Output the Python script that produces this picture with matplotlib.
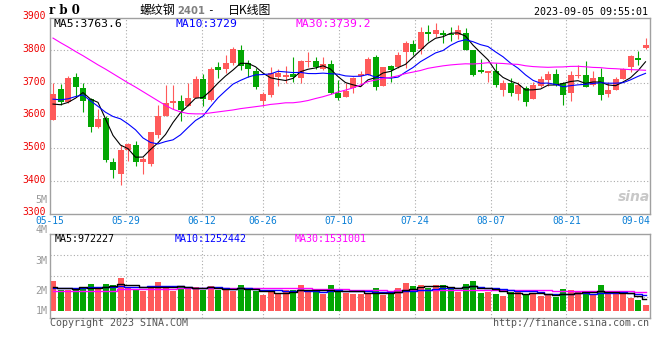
import numpy as np
import pandas as pd
import matplotlib
matplotlib.use('Agg')
import matplotlib.pyplot as plt
from matplotlib.transforms import ScaledTranslation

# daily candles, 2023-05-15 .. 2023-09-05
opens = [3585, 3682, 3641, 3719, 3685, 3651, 3566, 3592, 3458, 3422,
         3493, 3510, 3459, 3452, 3539, 3599, 3638, 3645, 3628, 3655,
         3711, 3646, 3749, 3743, 3762, 3801, 3760, 3737, 3643, 3663,
         3719, 3718, 3727, 3716, 3763, 3768, 3743, 3758, 3668, 3658,
         3684, 3721, 3724, 3779, 3689, 3750, 3747, 3793, 3818, 3804,
         3855, 3849, 3852, 3849, 3845, 3852, 3799, 3740, 3731, 3737,
         3679, 3699, 3666, 3684, 3650, 3689, 3709, 3727, 3699, 3670,
         3721, 3724, 3692, 3719, 3665, 3679, 3712, 3748, 3776, 3806]
highs = [3699, 3697, 3721, 3729, 3699, 3653, 3619, 3597, 3469, 3510,
         3515, 3522, 3474, 3551, 3631, 3692, 3692, 3663, 3699, 3721,
         3727, 3747, 3765, 3786, 3809, 3816, 3770, 3745, 3671, 3747,
         3743, 3752, 3778, 3770, 3794, 3778, 3778, 3770, 3709, 3699,
         3719, 3735, 3778, 3784, 3750, 3755, 3793, 3827, 3832, 3870,
         3877, 3883, 3862, 3872, 3877, 3869, 3801, 3773, 3735, 3760,
         3709, 3714, 3704, 3689, 3704, 3721, 3735, 3742, 3704, 3737,
         3755, 3767, 3737, 3745, 3704, 3719, 3745, 3784, 3798, 3837]
lows = [3585, 3633, 3638, 3658, 3612, 3549, 3563, 3459, 3408, 3386,
        3461, 3444, 3422, 3444, 3531, 3599, 3619, 3584, 3628, 3655,
        3628, 3643, 3714, 3730, 3755, 3740, 3719, 3682, 3628, 3658,
        3689, 3699, 3704, 3699, 3750, 3743, 3740, 3665, 3648, 3658,
        3668, 3689, 3724, 3679, 3689, 3704, 3745, 3745, 3786, 3788,
        3827, 3839, 3821, 3827, 3835, 3799, 3721, 3730, 3704, 3686,
        3661, 3661, 3648, 3628, 3650, 3686, 3689, 3691, 3633, 3643,
        3714, 3686, 3691, 3648, 3658, 3679, 3712, 3733, 3755, 3803]
closes = [3666, 3640, 3716, 3686, 3643, 3566, 3590, 3464, 3432, 3495,
          3512, 3459, 3466, 3548, 3597, 3639, 3643, 3617, 3655, 3711,
          3650, 3743, 3738, 3762, 3803, 3753, 3742, 3686, 3666, 3730,
          3730, 3724, 3718, 3768, 3768, 3750, 3757, 3668, 3653, 3676,
          3716, 3728, 3773, 3686, 3748, 3740, 3786, 3823, 3793, 3855,
          3849, 3862, 3847, 3845, 3862, 3799, 3724, 3733, 3735, 3692,
          3699, 3668, 3692, 3640, 3694, 3711, 3728, 3694, 3663, 3724,
          3724, 3686, 3716, 3663, 3679, 3712, 3743, 3781, 3770, 3816]
# volume in millions
volumes = [2.65, 1.89, 1.86, 1.92, 2.10, 2.36, 1.92, 2.36, 2.27, 2.89,
           2.06, 1.86, 1.74, 2.21, 2.54, 2.18, 1.74, 2.18, 2.06, 2.10,
           1.89, 2.18, 1.89, 1.86, 1.77, 2.27, 1.86, 1.77, 1.39, 1.65,
           1.50, 1.83, 1.86, 2.27, 1.71, 1.77, 1.47, 2.27, 1.83, 1.56,
           1.50, 1.50, 1.50, 2.01, 1.42, 1.56, 2.01, 2.45, 2.18, 2.27,
           2.01, 2.27, 2.27, 1.92, 1.71, 2.36, 2.63, 1.56, 1.71, 1.47,
           1.33, 1.71, 1.71, 1.50, 1.50, 1.33, 1.42, 1.21, 1.92, 1.83,
           1.71, 1.56, 1.47, 2.27, 1.47, 1.47, 1.47, 1.12, 0.94, 0.50]

# moving averages before enough history is on the chart
ma5_head = [3635, 3633, 3640, 3653]
ma10_head = [3650, 3648, 3651, 3658, 3663, 3645, 3628, 3610, 3597]
ma30_head = [3837, 3823, 3810, 3796, 3783, 3769, 3755, 3742, 3728, 3714,
             3700, 3687, 3673, 3659, 3645, 3631, 3619, 3611, 3606, 3605,
             3605, 3608, 3611, 3614, 3617, 3621, 3624, 3627, 3630]
vma5_head = [2.10, 2.05, 2.00, 1.98]
vma10_head = [2.00, 2.00, 2.02, 2.03, 2.05, 2.08, 2.10, 2.12, 2.15]
vma30_head = [1.74, 1.74, 1.75, 1.75, 1.76, 1.76, 1.77, 1.77, 1.78, 1.95,
              1.96, 1.96, 1.97, 1.97, 1.98, 1.98, 1.98, 1.99, 1.99, 1.99,
              2.00, 2.00, 2.00, 2.01, 2.01, 2.02, 2.02, 2.03, 2.04]

# header values as printed on the chart
price_ma_text = ['MA5:3763.6', 'MA10:3729', 'MA30:3739.2']
vol_ma_text = ['MA5:972227', 'MA10:1252442', 'MA30:1531001']

date_labels = ['05-15', '05-29', '06-12', '06-26', '07-10', '07-24', '08-07', '08-21', '09-04']
date_idx = [0, 10, 20, 28, 38, 48, 58, 68, 78]
price_ticks = [3300, 3400, 3500, 3600, 3700, 3800, 3900]
vol_tick_labels = ['5M', '4M', '3M', '2M', '1M']

RED = '#ff5a5a'
GREEN = '#03a603'
GRID = '#aaaaaa'
FRAME = '#a0a0a0'
MA_COLORS = ['black', '#0000ff', '#ff00ff']
MONO = 'DejaVu Sans Mono'
CJK = ['Noto Sans CJK SC', 'DejaVu Sans']

df = pd.DataFrame({'open': opens, 'high': highs, 'low': lows,
                   'close': closes, 'vol': volumes})
n = len(df)
x = np.arange(n)
up = df['close'] >= df['open']
colors = np.where(up, RED, GREEN)


def ma(s, w, head):
    m = s.rolling(w).mean()
    m.iloc[:len(head)] = head
    return m


W, H = 660, 360
fig = plt.figure(figsize=(6.6, 3.6), dpi=100)
fig.patch.set_facecolor('white')


def px_axes(x0, y0, x1, y1):
    return fig.add_axes([x0 / W, 1 - y1 / H, (x1 - x0) / W, (y1 - y0) / H])


def ftext(px, py, s, **kw):
    return fig.text(px / W, 1 - py / H, s, **kw)


ax = px_axes(50, 17.5, 650, 213.5)
axv = px_axes(50, 234, 650, 318)

# gridline spacing Sina uses for the date ticks
grid_x = [i * n / (n - 1) for i in date_idx]

for a in (ax, axv):
    a.set_xlim(0, n)
    a.set_xticks([])
    for s in a.spines.values():
        s.set_color(FRAME)
        s.set_linewidth(1.0)
    for gx in grid_x[1:-1]:
        a.axvline(gx, color=GRID, lw=0.8, ls=(0, (1, 2)), zorder=0)
    a.tick_params(length=0)

# --- price panel
ax.set_ylim(3300, 3900)
ax.set_yticks(price_ticks)
ax.set_yticklabels([str(p) for p in price_ticks], color='#ee0000',
                   fontsize=7, family=MONO)
ax.tick_params(axis='y', pad=3)
lift = ScaledTranslation(0, 2.3 / 100, fig.dpi_scale_trans)
for lab in ax.get_yticklabels():
    lab.set_transform(lab.get_transform() + lift)
for p in price_ticks[1:-1]:
    ax.axhline(p, color=GRID, lw=0.8, ls=(0, (1, 2)), zorder=0)

bw = 0.8
ax.vlines(x + bw / 2, df['low'], df['high'], colors=colors, lw=0.8, zorder=2)
ax.bar(x, (df['close'] - df['open']).abs().clip(lower=2.5),
       bottom=df[['open', 'close']].min(axis=1), width=bw, align='edge',
       color=colors, lw=0, zorder=3)

ma5 = ma(df['close'], 5, ma5_head)
ma10 = ma(df['close'], 10, ma10_head)
ma30 = ma(df['close'], 30, ma30_head)
for line, c in zip([ma5, ma10, ma30], MA_COLORS):
    ax.plot(x + bw / 2, line, color=c, lw=0.8, zorder=4)

for px, s, c in zip([53, 175, 295], price_ma_text, MA_COLORS):
    ftext(px, 24, s, color=c, fontsize=8.2, family=MONO, va='center')

# date labels under the price panel
for gx, lab in zip(grid_x, date_labels):
    last = lab == date_labels[-1]
    ax.annotate(lab, xy=(n if last else gx, 0), xycoords=('data', 'axes fraction'),
                xytext=(0, -7 * 0.72), textcoords='offset points',
                ha='right' if last else 'center', va='center',
                color='#0a7fd6', fontsize=6.9, family=MONO)

# watermark
ftext(634, 197, 'sina', color='#c8c8c8', fontsize=10, fontweight='bold',
      fontstyle='italic', ha='center', va='center')

# --- volume panel
v_lo, v_hi = -0.62, 6.81
axv.set_ylim(v_lo, v_hi)
axv.set_yticks([])
for g in np.linspace(v_lo, v_hi, 5)[1:4]:
    axv.axhline(g, color=GRID, lw=0.8, ls=(0, (1, 2)), zorder=0)
axv.bar(x, df['vol'], width=bw, align='edge', color=colors, lw=0, zorder=2)

vma5 = ma(df['vol'], 5, vma5_head)
vma10 = ma(df['vol'], 10, vma10_head)
vma30 = ma(df['vol'], 30, vma30_head)
for z, (line, c) in enumerate(zip([vma30, vma10, vma5], MA_COLORS[::-1])):
    axv.step(x + bw / 2, line, where='mid', color=c, lw=1.0, zorder=3 + z)

for px, s, c in zip([55, 175, 295], vol_ma_text, MA_COLORS):
    ftext(px, 239, s, color=c, fontsize=7.2, family=MONO, va='center')

for lab, py in zip(vol_tick_labels, [200, 230, 260.5, 290.5, 310.5]):
    ftext(47.5, py, lab, color='#999999', fontsize=7.2, family=MONO, ha='right', va='center')

# --- header / footer
ftext(49, 10.5, 'r b 0', color='black', fontsize=8.5, family='DejaVu Serif',
      fontweight='bold', va='center')
ftext(140, 10.5, '螺纹钢', color='black', fontsize=8.6, family=CJK, va='center')
ftext(177, 10.5, '2401', color='#808080', fontsize=7.2, family='DejaVu Sans',
      fontweight='bold', va='center')
ftext(207, 10.5, '-', color='black', fontsize=8, family=MONO, va='center')
ftext(228, 10.5, '日K线图', color='black', fontsize=8.6, family=CJK, va='center')
ftext(648, 12, '2023-09-05 09:55:01', color='black', fontsize=7.2, family=MONO,
      ha='right', va='center')

ftext(50, 323.5, 'Copyright 2023 SINA.COM', color='#555555', fontsize=7.2,
      family=MONO, va='center')
ftext(649, 323.5, 'http://finance.sina.com.cn', color='#555555', fontsize=7.2,
      family=MONO, ha='right', va='center')

fig.savefig('out.png', dpi=100, facecolor='white')
